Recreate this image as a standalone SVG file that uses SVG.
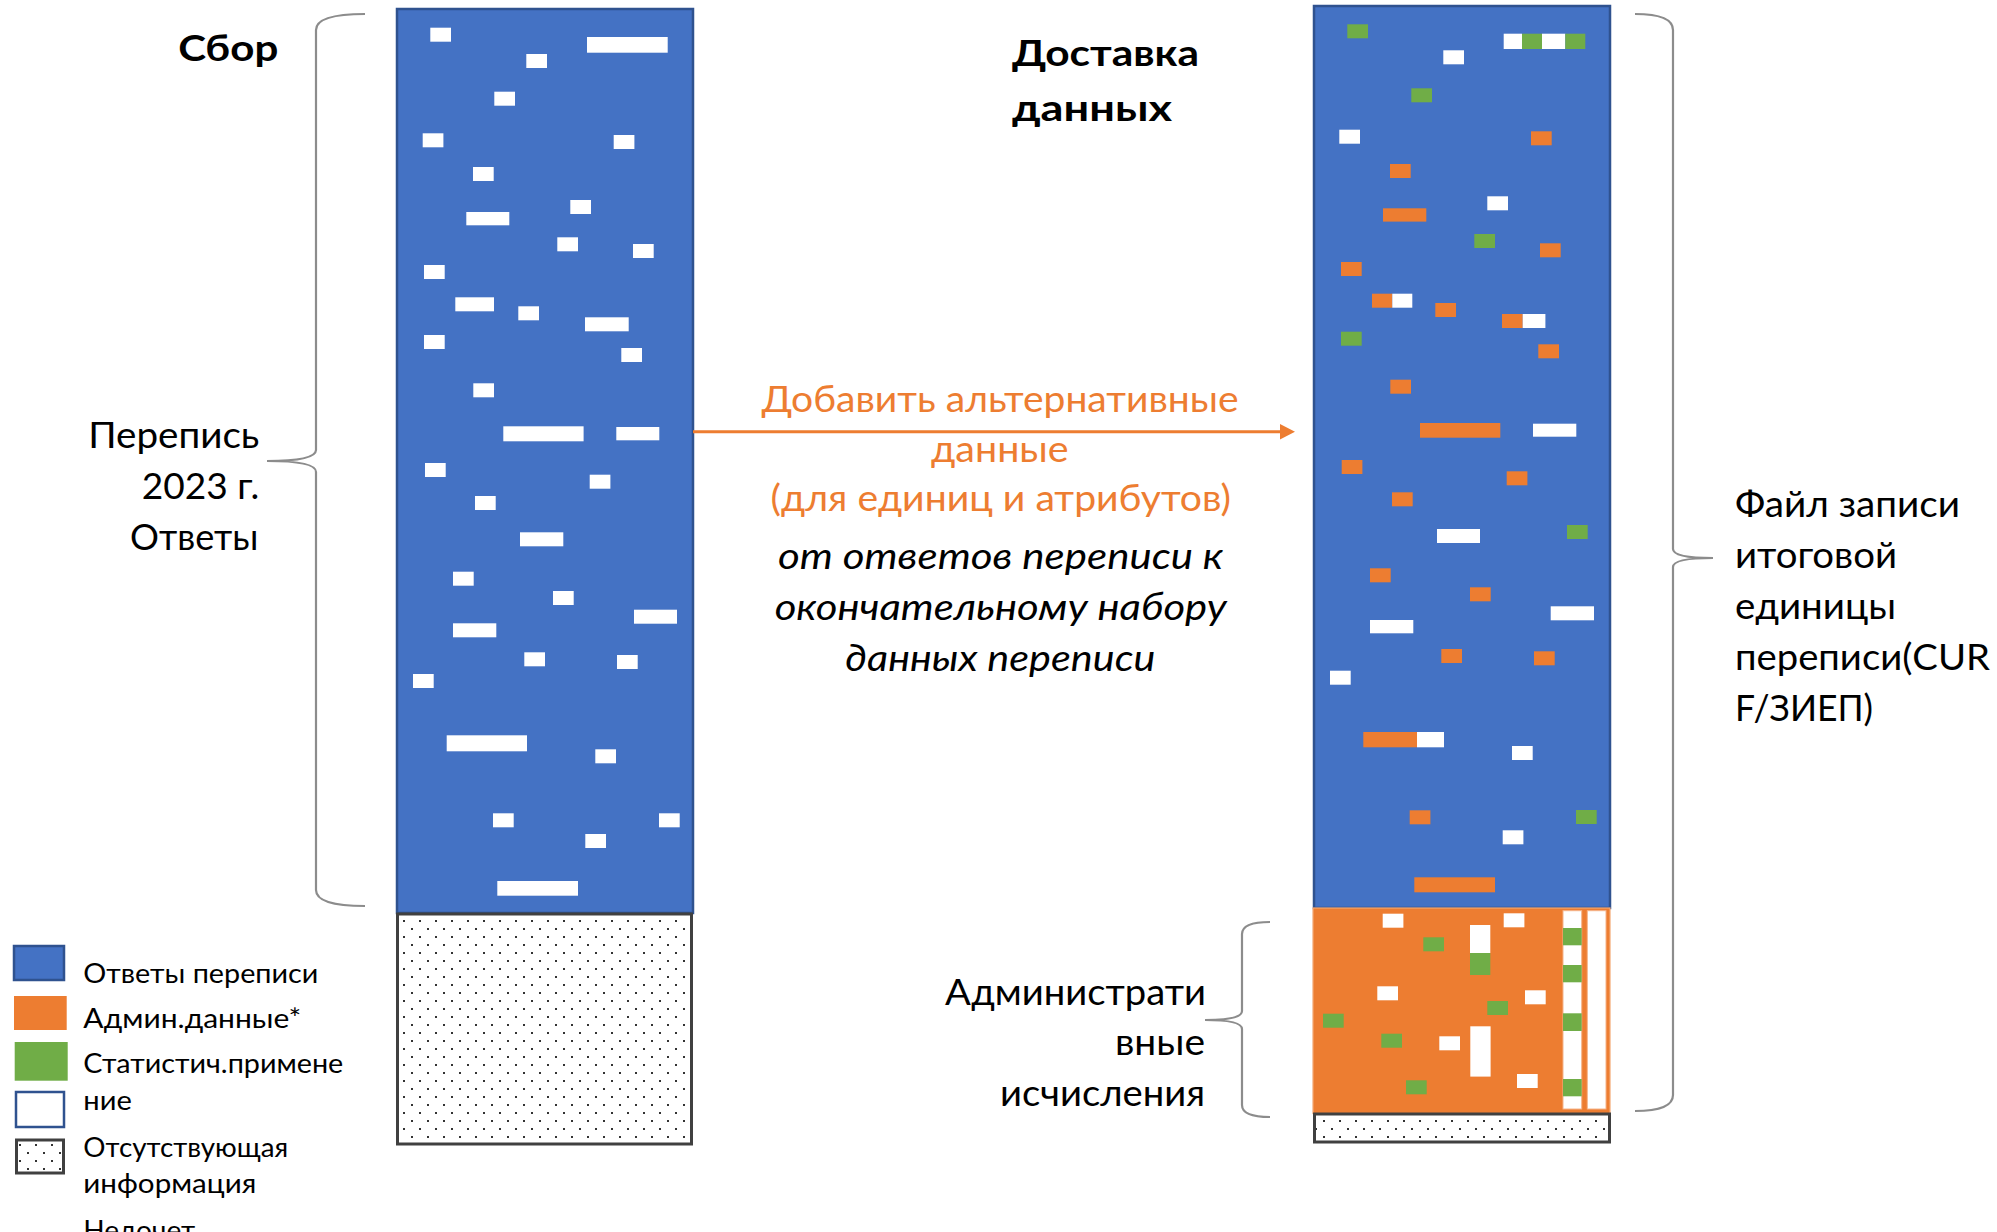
<svg xmlns="http://www.w3.org/2000/svg" width="1997" height="1232" viewBox="0 0 1997 1232">
<style>
.t{font-family:Lato,"Open Sans","Liberation Sans",sans-serif;font-size:36px;fill:#000}
.b{font-weight:bold;font-size:37px}
.i{font-style:italic}
.or{fill:#ED7D31}
.lg{font-size:27px}
.blue{fill:#4472C4;stroke:#2F528F;stroke-width:2.5}
.dot{fill:url(#dots);stroke:#404040;stroke-width:3}
.w{fill:#fff}
.o{fill:#ED7D31}
.g{fill:#70AD47}
.br{fill:none;stroke:#8C8C8C;stroke-width:2.2}
</style>
<defs>
<pattern id="dots" patternUnits="userSpaceOnUse" x="0" y="0" width="16" height="16">
<rect width="16" height="16" fill="#fff"/>
<rect x="11" y="0" width="2" height="2" fill="#333"/>
<rect x="3" y="8" width="2" height="2" fill="#333"/>
</pattern>
</defs>
<rect width="1997" height="1232" fill="#fff"/>

<g id="collection">
<rect class="blue" x="397" y="9" width="296" height="904"/>
<g class="w">
<rect x="430.3" y="27.7" width="20.7" height="14"/>
<rect x="587" y="37" width="80.7" height="15.7"/>
<rect x="526.3" y="54" width="20.7" height="14"/>
<rect x="494.3" y="91.7" width="20.7" height="14"/>
<rect x="422.7" y="133.3" width="20.7" height="14"/>
<rect x="613.7" y="135" width="20.7" height="14"/>
<rect x="473" y="167" width="20.7" height="14"/>
<rect x="570.3" y="200" width="20.7" height="14"/>
<rect x="466.3" y="212" width="43" height="13.3"/>
<rect x="557.3" y="237.3" width="20.7" height="14"/>
<rect x="633" y="244" width="20.7" height="14"/>
<rect x="424" y="265" width="20.7" height="14"/>
<rect x="455.3" y="297.3" width="38.7" height="14"/>
<rect x="518.3" y="306.3" width="20.7" height="14"/>
<rect x="585" y="317.3" width="43.7" height="14"/>
<rect x="424" y="335" width="20.7" height="14"/>
<rect x="621.3" y="348" width="20.7" height="14"/>
<rect x="473.3" y="383.3" width="20.7" height="14"/>
<rect x="503.3" y="426.3" width="80.3" height="15"/>
<rect x="616.3" y="427" width="43" height="13.3"/>
<rect x="425" y="463" width="20.7" height="14"/>
<rect x="589.7" y="474.7" width="20.7" height="14"/>
<rect x="475" y="496" width="20.7" height="14"/>
<rect x="520" y="532.3" width="43.3" height="14"/>
<rect x="453" y="571.7" width="20.7" height="14"/>
<rect x="553" y="591" width="20.7" height="14"/>
<rect x="634" y="609.7" width="43" height="14"/>
<rect x="453" y="623.3" width="43.3" height="14"/>
<rect x="524.3" y="652.3" width="20.7" height="14"/>
<rect x="617" y="655" width="20.7" height="14"/>
<rect x="413" y="674" width="20.7" height="14"/>
<rect x="446.7" y="735.3" width="80.3" height="16"/>
<rect x="595.3" y="749.3" width="20.7" height="14"/>
<rect x="493" y="813.3" width="20.7" height="14"/>
<rect x="659" y="813.3" width="20.7" height="14"/>
<rect x="585.3" y="834" width="20.7" height="14"/>
<rect x="497.3" y="881" width="80.7" height="14.7"/>
</g>
<rect class="dot" x="397.5" y="914" width="294" height="230"/>
<text class="t b" x="178.3" y="61" textLength="100" lengthAdjust="spacingAndGlyphs">Сбор</text>
<text class="t" x="88.3" y="448.3" textLength="171" lengthAdjust="spacingAndGlyphs">Перепись</text>
<text class="t" x="141.7" y="499.3" textLength="117.6" lengthAdjust="spacingAndGlyphs">2023 г.</text>
<text class="t" x="130" y="550" textLength="128.3" lengthAdjust="spacingAndGlyphs">Ответы</text>
</g>

<g id="delivery">
<rect class="blue" x="1314" y="6" width="296" height="902"/>
<g>
<rect class="g" x="1347.3" y="24.3" width="20.7" height="14"/>
<rect class="w" x="1503.7" y="33.7" width="18.3" height="15.3"/>
<rect class="g" x="1522" y="33.7" width="20" height="15.3"/>
<rect class="w" x="1542" y="33.7" width="23.3" height="15.3"/>
<rect class="g" x="1565.3" y="33.7" width="20" height="15.3"/>
<rect class="w" x="1443.3" y="50.3" width="20.7" height="14"/>
<rect class="g" x="1411.3" y="88.3" width="20.7" height="14"/>
<rect class="w" x="1339.3" y="129.7" width="20.7" height="14"/>
<rect class="o" x="1531" y="131.3" width="20.7" height="14"/>
<rect class="o" x="1390" y="164" width="20.7" height="14"/>
<rect class="w" x="1487.3" y="196.3" width="20.7" height="14"/>
<rect class="o" x="1383" y="208.3" width="43.3" height="13.3"/>
<rect class="g" x="1474.3" y="234" width="20.7" height="14"/>
<rect class="o" x="1540" y="243.3" width="20.7" height="14"/>
<rect class="o" x="1341" y="262" width="20.7" height="14"/>
<rect class="o" x="1372" y="293.7" width="20.3" height="14"/>
<rect class="w" x="1392.3" y="293.7" width="20" height="14"/>
<rect class="o" x="1435.3" y="303" width="20.7" height="14"/>
<rect class="o" x="1502" y="314" width="20.7" height="14"/>
<rect class="w" x="1522.7" y="314" width="22.7" height="14"/>
<rect class="g" x="1341" y="331.7" width="20.7" height="14"/>
<rect class="o" x="1538.3" y="344.3" width="20.7" height="14"/>
<rect class="o" x="1390.3" y="379.7" width="20.7" height="14"/>
<rect class="o" x="1420" y="423" width="80.3" height="14.7"/>
<rect class="w" x="1533" y="423.7" width="43.3" height="13"/>
<rect class="o" x="1341.7" y="460" width="20.7" height="14"/>
<rect class="o" x="1506.7" y="471.3" width="20.7" height="14"/>
<rect class="o" x="1392" y="492.3" width="20.7" height="14"/>
<rect class="w" x="1437" y="529" width="43" height="14"/>
<rect class="g" x="1567" y="525" width="20.7" height="14"/>
<rect class="o" x="1370" y="568.3" width="20.7" height="14"/>
<rect class="o" x="1470" y="587.3" width="20.7" height="14"/>
<rect class="w" x="1550.7" y="606.3" width="43.3" height="14"/>
<rect class="w" x="1370" y="620" width="43.3" height="13.3"/>
<rect class="o" x="1441.3" y="649" width="20.7" height="14"/>
<rect class="o" x="1534" y="651.3" width="20.7" height="14"/>
<rect class="w" x="1330" y="670.7" width="20.7" height="14"/>
<rect class="o" x="1363.3" y="732" width="53.7" height="15.3"/>
<rect class="w" x="1417" y="732" width="27" height="15.3"/>
<rect class="w" x="1512" y="746" width="20.7" height="14"/>
<rect class="o" x="1409.7" y="810.3" width="20.7" height="14"/>
<rect class="g" x="1576" y="810" width="20.7" height="14"/>
<rect class="w" x="1502.7" y="830.3" width="20.7" height="14"/>
<rect class="o" x="1414.3" y="877.3" width="80.7" height="15"/>
</g>
<rect x="1313" y="908" width="297" height="205.5" fill="#ED7D31" stroke="#F4A874" stroke-width="1.2"/>
<g>
<rect class="w" x="1382.7" y="913.7" width="20.7" height="14"/>
<rect class="w" x="1503.7" y="913.3" width="20.7" height="14"/>
<rect class="w" x="1470" y="925" width="20.3" height="28"/>
<rect class="g" x="1470" y="953" width="20.3" height="22"/>
<rect class="g" x="1423.3" y="937.3" width="20.7" height="14"/>
<rect class="w" x="1377.3" y="986.3" width="20.7" height="14"/>
<rect class="w" x="1525" y="990.3" width="20.7" height="14"/>
<rect class="g" x="1487.3" y="1001" width="20.7" height="14"/>
<rect class="g" x="1323" y="1013.7" width="20.7" height="14"/>
<rect class="g" x="1381.3" y="1033.7" width="20.7" height="14"/>
<rect class="w" x="1439.3" y="1036.3" width="20.7" height="14"/>
<rect class="w" x="1470.3" y="1026.3" width="20.3" height="50.3"/>
<rect class="w" x="1517" y="1074" width="20.7" height="14"/>
<rect class="g" x="1406" y="1080.3" width="20.7" height="14"/>
<rect class="w" x="1563" y="910.7" width="18.7" height="198.3" stroke="#F6B489" stroke-width="1"/>
<rect class="g" x="1563" y="928" width="18.7" height="17.3"/>
<rect class="g" x="1563" y="965" width="18.7" height="17.3"/>
<rect class="g" x="1563" y="1013.3" width="18.7" height="17.7"/>
<rect class="g" x="1563" y="1079" width="18.7" height="17.3"/>
<rect class="w" x="1587.3" y="910.7" width="18.7" height="198.3" stroke="#F6B489" stroke-width="1"/>
</g>
<rect class="dot" x="1314.5" y="1114" width="295" height="28"/>
<text class="t b" x="1012" y="66" textLength="187" lengthAdjust="spacingAndGlyphs">Доставка</text>
<text class="t b" x="1012" y="121" textLength="160" lengthAdjust="spacingAndGlyphs">данных</text>
<text class="t" x="945" y="1005" textLength="261" lengthAdjust="spacingAndGlyphs">Администрати</text>
<text class="t" x="1115" y="1055" textLength="90" lengthAdjust="spacingAndGlyphs">вные</text>
<text class="t" x="1000" y="1106" textLength="205" lengthAdjust="spacingAndGlyphs">исчисления</text>
<text class="t" x="1735" y="517" textLength="225" lengthAdjust="spacingAndGlyphs">Файл записи</text>
<text class="t" x="1735" y="568" textLength="162" lengthAdjust="spacingAndGlyphs">итоговой</text>
<text class="t" x="1735" y="619" textLength="161" lengthAdjust="spacingAndGlyphs">единицы</text>
<text class="t" x="1735" y="670" textLength="255" lengthAdjust="spacingAndGlyphs">переписи(CUR</text>
<text class="t" x="1735" y="721" textLength="138" lengthAdjust="spacingAndGlyphs">F/ЗИЕП)</text>
</g>

<g id="connectors">
<path class="br" d="M365,14 Q316,14 316,30 L316,450 Q316,461 267,461 Q316,461 316,472 L316,890 Q316,906 365,906"/>
<path class="br" d="M1270,922 Q1242,922 1242,934 L1242,1011 Q1242,1020 1205,1020 Q1242,1020 1242,1029 L1242,1105 Q1242,1117 1270,1117"/>
<path class="br" d="M1635,14 Q1673,14 1673,30 L1673,549 Q1673,558 1713,558 Q1673,558 1673,567 L1673,1095 Q1673,1111 1635,1111"/>
<line x1="693" y1="431.7" x2="1281" y2="431.7" stroke="#ED7D31" stroke-width="3"/>
<polygon points="1280,424 1295,431.7 1280,439.4" fill="#ED7D31"/>
</g>

<g id="arrow-label">
<text class="t or" x="761.6" y="411.7" textLength="477" lengthAdjust="spacingAndGlyphs">Добавить альтернативные</text>
<text class="t or" x="931" y="461.7" textLength="137.6" lengthAdjust="spacingAndGlyphs">данные</text>
<text class="t or" x="770.6" y="511" textLength="460.4" lengthAdjust="spacingAndGlyphs">(для единиц и атрибутов)</text>
<text class="t i" x="778" y="569" textLength="445" lengthAdjust="spacingAndGlyphs">от ответов переписи к</text>
<text class="t i" x="774.7" y="620" textLength="452" lengthAdjust="spacingAndGlyphs">окончательному набору</text>
<text class="t i" x="845.3" y="671" textLength="310" lengthAdjust="spacingAndGlyphs">данных переписи</text>
</g>

<g id="legend">
<rect x="14" y="946" width="50" height="34" fill="#4472C4" stroke="#2F528F" stroke-width="2.5"/>
<rect x="14" y="996" width="52.7" height="34" fill="#ED7D31"/>
<rect x="14.7" y="1042" width="53" height="38.7" fill="#70AD47"/>
<rect x="16" y="1092" width="48" height="35" fill="#fff" stroke="#2F528F" stroke-width="2.5"/>
<rect x="16.5" y="1140" width="47" height="33" fill="url(#dots)" stroke="#404040" stroke-width="3"/>
<text class="t lg" x="83.3" y="983" textLength="235" lengthAdjust="spacingAndGlyphs">Ответы переписи</text>
<text class="t lg" x="83.3" y="1028" textLength="218" lengthAdjust="spacingAndGlyphs">Админ.данные*</text>
<text class="t lg" x="83.3" y="1072.7" textLength="260" lengthAdjust="spacingAndGlyphs">Статистич.примене</text>
<text class="t lg" x="83.3" y="1110" textLength="48.5" lengthAdjust="spacingAndGlyphs">ние</text>
<text class="t lg" x="83.3" y="1156.7" textLength="205" lengthAdjust="spacingAndGlyphs">Отсутствующая</text>
<text class="t lg" x="83.3" y="1193" textLength="173" lengthAdjust="spacingAndGlyphs">информация</text>
<text class="t lg" x="83.3" y="1240" textLength="112" lengthAdjust="spacingAndGlyphs">Недочет</text>
</g>
</svg>
